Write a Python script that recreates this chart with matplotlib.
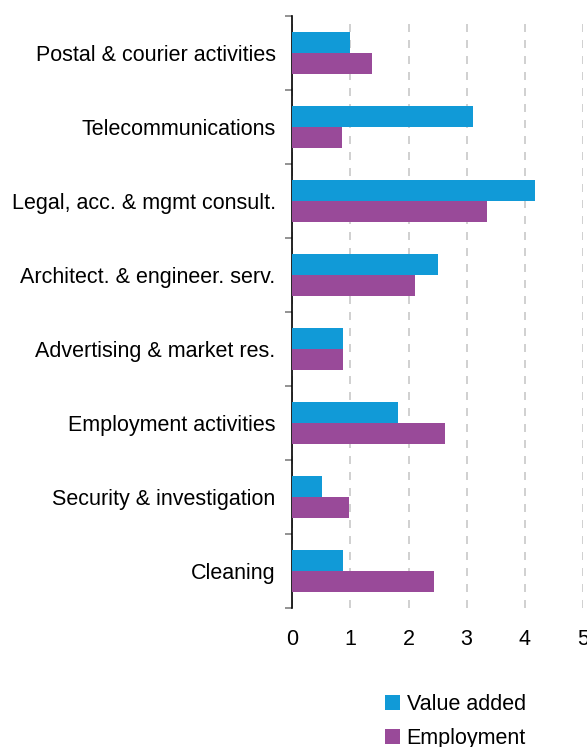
import numpy as np
import matplotlib.pyplot as plt
from matplotlib.ticker import FixedLocator

plt.rcParams['font.family'] = ['Liberation Sans', 'DejaVu Sans']
plt.rcParams['font.size'] = 15.5

sectors = ["Postal & courier activities", "Telecommunications",
           "Legal, acc. & mgmt consult.", "Architect. & engineer. serv.",
           "Advertising & market res.", "Employment activities",
           "Security & investigation", "Cleaning"]
value_added = [1.00, 3.11, 4.18, 2.51, 0.87, 1.82, 0.51, 0.87]
employment = [1.37, 0.86, 3.35, 2.11, 0.87, 2.63, 0.97, 2.44]

blue = "#119AD7"
purple = "#994A99"

fig = plt.figure(figsize=(5.87, 7.47), dpi=100)
ax = fig.add_axes([0.498, 0.186, 0.4948, 0.793])

y = np.arange(len(sectors))
h = 0.285
ax.barh(y - h / 2, value_added, height=h, color=blue, label="Value added", zorder=3)
ax.barh(y + h / 2, employment, height=h, color=purple, label="Employment", zorder=3)

ax.set_xlim(0, 5)
ax.set_ylim(len(sectors) - 0.5, -0.5)
ax.set_xticks(range(6))

# category labels on major ticks, boundary marks on minor ticks
ax.set_yticks(y)
ax.set_yticklabels(sectors)
ax.yaxis.set_minor_locator(FixedLocator(np.arange(-0.5, len(sectors), 1)))
ax.tick_params(axis='y', which='major', length=0, pad=12)
ax.tick_params(axis='y', which='minor', length=5, width=1.2, color="#808080")
ax.tick_params(axis='x', length=0, pad=15)

for s in ["top", "right", "bottom"]:
    ax.spines[s].set_visible(False)
ax.spines["left"].set_linewidth(1.2)
ax.spines["left"].set_color("black")

ax.xaxis.grid(True, color="#c8c8c8", linewidth=1.2, dashes=(4.8, 4.8))
ax.set_axisbelow(True)

fig.legend(loc="upper left", bbox_to_anchor=(385 / 587, 1 - 694 / 747),
           frameon=False, handlelength=0.7, handleheight=0.7,
           handletextpad=0.3, labelspacing=0.6, fontsize=15.5,
           borderaxespad=0, borderpad=0)

fig.savefig("out.png", dpi=100)
